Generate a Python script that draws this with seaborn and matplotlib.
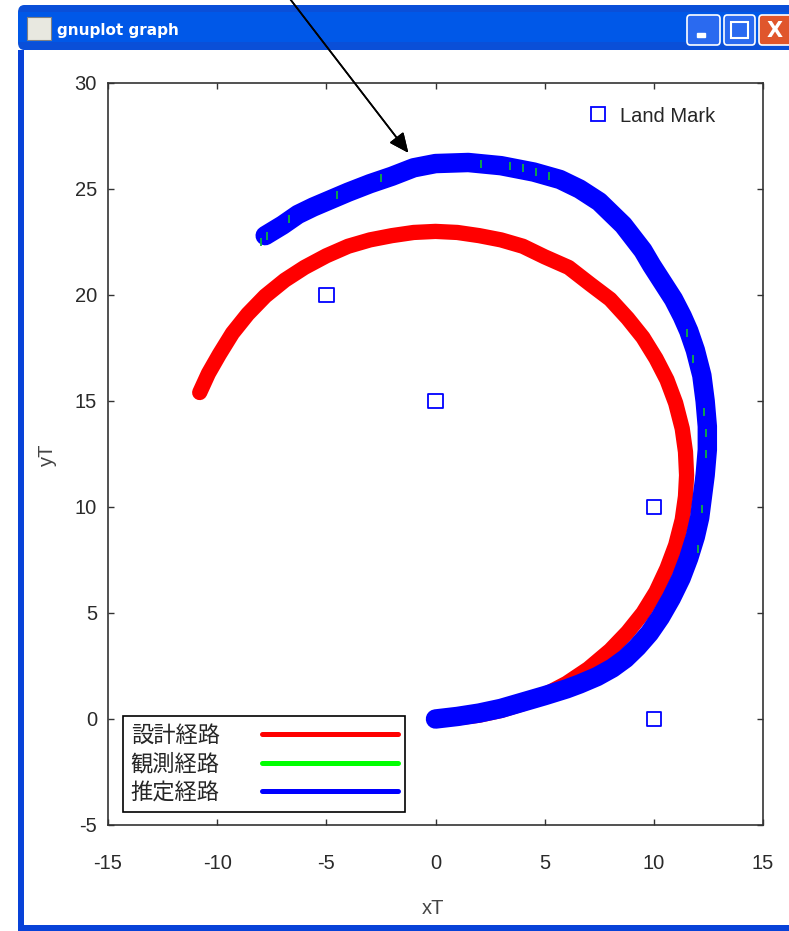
import numpy as np
import pandas as pd
import matplotlib
matplotlib.use("Agg")
import matplotlib.pyplot as plt
from matplotlib.lines import Line2D
from matplotlib.patches import Rectangle, FancyBboxPatch
import seaborn as sns

# design path (red)
design_x = [0.0, 1.0, 2.0, 3.0, 4.0, 5.0, 6.0, 7.0, 8.0, 8.8, 9.5, 10.1, 10.6, 11.0,
            11.3, 11.45, 11.5, 11.45, 11.3, 11.0, 10.6, 10.1, 9.5, 8.8, 8.0, 7.1,
            6.1, 5.0, 4.0, 3.0, 2.0, 1.0, 0.0, -1.0, -2.0, -3.0, -4.0, -5.0, -6.0,
            -6.9, -7.8, -8.6, -9.3, -9.9, -10.4, -10.8]
design_y = [0.0, 0.05, 0.18, 0.4, 0.72, 1.14, 1.68, 2.37, 3.24, 4.1, 5.0, 6.0, 7.1,
            8.2, 9.4, 10.5, 11.5, 12.6, 13.7, 14.9, 16.0, 17.0, 18.0, 18.9, 19.8,
            20.5, 21.3, 21.8, 22.3, 22.6, 22.8, 22.95, 23.0, 22.95, 22.8, 22.6,
            22.3, 21.85, 21.3, 20.7, 19.95, 19.1, 18.2, 17.2, 16.3, 15.4]

# estimated path (blue)
est_x = [0.0, 1.0, 2.0, 3.0, 4.0, 5.0, 6.0, 6.6, 7.4, 8.1, 8.7, 9.25, 9.8, 10.3,
         10.8, 11.25, 11.6, 11.9, 12.1, 12.2, 12.35, 12.45, 12.45, 12.35, 12.2,
         11.9, 11.6, 11.3, 10.9, 10.4, 9.9, 9.5, 8.6, 7.5, 6.6, 5.7, 4.5, 3.0,
         1.5, 0.0, -1.0, -2.0, -3.0, -4.0, -4.8, -5.6, -6.3, -7.0, -7.8]
est_y = [0.0, 0.12, 0.28, 0.5, 0.8, 1.1, 1.42, 1.65, 2.0, 2.4, 2.85, 3.4, 4.05, 4.8,
         5.7, 6.65, 7.6, 8.6, 9.5, 10.3, 11.5, 12.7, 13.8, 15.0, 16.2, 17.4, 18.3,
         19.0, 19.8, 20.6, 21.4, 22.1, 23.3, 24.4, 25.0, 25.45, 25.8, 26.1, 26.25,
         26.2, 26.0, 25.6, 25.25, 24.85, 24.5, 24.15, 23.8, 23.3, 22.8]

# observed path (green), only the specks that show through
obs_x = [-8.0, -7.7, -6.7, -4.5, -2.5, 2.1, 3.4, 4.0, 4.6, 5.2, 11.5, 11.8,
         12.3, 12.4, 12.4, 12.2, 12.0]
obs_y = [22.5, 22.8, 23.6, 24.7, 25.5, 26.2, 26.1, 26.0, 25.8, 25.6, 18.2, 17.0,
         14.5, 13.5, 12.5, 9.9, 8.0]

# land marks
mark_x = [-5, 0, 10, 10]
mark_y = [20, 15, 10, 0]

path_labels = ["設計経路", "観測経路", "推定経路"]
path_colors = ["#ff0000", "#00ff00", "#0000ff"]

W, H = 789, 931
def fx(px):
    return px / W
def fy(py):
    return 1 - py / H

sns.set_theme(style="ticks")
plt.rcParams["font.family"] = ["Liberation Sans", "DejaVu Sans"]
plt.rcParams["axes.unicode_minus"] = False

fig = plt.figure(figsize=(W / 100, H / 100), dpi=100)
fig.patch.set_facecolor("white")

# window chrome
fig.add_artist(FancyBboxPatch((fx(18), fy(50)), fx(800) - fx(18), fy(5) - fy(50),
                              boxstyle="round,pad=0,rounding_size=0.008",
                              transform=fig.transFigure, facecolor="#0a4fd8",
                              edgecolor="none", zorder=0))
fig.add_artist(Rectangle((fx(18), fy(42)), fx(800) - fx(18), fy(12) - fy(42),
                         transform=fig.transFigure, facecolor="#0058e8",
                         edgecolor="none", zorder=0))
fig.add_artist(Rectangle((fx(18), fy(931)), fx(24) - fx(18), fy(50) - fy(931),
                         transform=fig.transFigure, facecolor="#0842d8",
                         edgecolor="none", zorder=0))
fig.add_artist(Rectangle((fx(18), fy(931)), 1, fy(925) - fy(931),
                         transform=fig.transFigure, facecolor="#0842d8",
                         edgecolor="none", zorder=0))
fig.add_artist(Rectangle((fx(27), fy(40)), fx(24), fy(17) - fy(40),
                         transform=fig.transFigure, facecolor="#e8e8e0",
                         edgecolor="#808080", linewidth=0.8, zorder=1))
fig.text(fx(57), fy(30), "gnuplot graph", color="white", fontsize=11,
         fontweight="bold", family="DejaVu Sans", va="center", ha="left")
for x0, x1, col in [(687, 720, "#2a6af0"), (724, 755, "#2a6af0"), (759, 795, "#e0562c")]:
    fig.add_artist(FancyBboxPatch((fx(x0), fy(45)), fx(x1) - fx(x0), fy(15) - fy(45),
                                  boxstyle="round,pad=0,rounding_size=0.004",
                                  transform=fig.transFigure, facecolor=col,
                                  edgecolor="white", linewidth=1.2, zorder=1))
fig.add_artist(Rectangle((fx(697), fy(37)), fx(8), fy(33) - fy(37),
                         transform=fig.transFigure, facecolor="white", zorder=2))
fig.add_artist(Rectangle((fx(731), fy(38)), fx(17), fy(22) - fy(38),
                         transform=fig.transFigure, facecolor="none",
                         edgecolor="white", linewidth=1.5, zorder=2))
fig.text(fx(775), fy(31), "X", color="white", fontsize=15, fontweight="bold",
         family="DejaVu Sans", ha="center", va="center")

ax = fig.add_axes([fx(108), fy(825), fx(763) - fx(108), fy(83) - fy(825)])

sns.lineplot(x=design_x, y=design_y, sort=False, estimator=None, color=path_colors[0],
             linewidth=11, solid_capstyle="round", solid_joinstyle="round", ax=ax)
sns.lineplot(x=est_x, y=est_y, sort=False, estimator=None, color=path_colors[2],
             linewidth=14, solid_capstyle="round", solid_joinstyle="round", ax=ax)
sns.scatterplot(x=obs_x, y=obs_y, marker="|", color="#10b040", s=30,
                linewidth=1.3, ax=ax, zorder=5)
sns.scatterplot(x=mark_x, y=mark_y, marker="s", s=110, facecolor="none",
                edgecolor="#0000ff", linewidth=1.3, ax=ax, zorder=6)

ax.set_xlim(-15, 15)
ax.set_ylim(-5, 30)
ax.set_xticks(np.arange(-15, 16, 5))
ax.set_yticks(np.arange(-5, 31, 5))
ax.tick_params(direction="in", length=4, width=1, color="#333333",
               top=True, right=True, labelsize=14.5, labelcolor="#2a2a2a")
ax.tick_params(axis="x", pad=21)
ax.tick_params(axis="y", pad=8)
for s in ax.spines.values():
    s.set_color("#333333")
    s.set_linewidth(1.2)

ax.set_xlabel("xT", fontsize=14.5, color="#444444")
ax.set_ylabel("yT", fontsize=14.5, color="#444444")
ax.xaxis.set_label_coords((433 - 108) / 655, (825 - 908) / 742)
ax.yaxis.set_label_coords((47 - 108) / 655, (825 - 455) / 742)
ax.xaxis.label.set_va("center")
ax.yaxis.label.set_va("center")

# legends
mark_handle = Line2D([], [], marker="s", markersize=10, markerfacecolor="none",
                     markeredgecolor="#0000ff", markeredgewidth=1.3, linestyle="none")
leg1 = ax.legend([mark_handle], ["Land Mark"], loc="center left",
                 bbox_to_anchor=((588 - 108) / 655, (825 - 116) / 742),
                 frameon=False, fontsize=14.5, handlelength=1.0,
                 handletextpad=0.6, borderpad=0, borderaxespad=0)
ax.add_artist(leg1)

path_handles = [Line2D([], [], color=c, linewidth=3.6) for c in path_colors]
leg2 = ax.legend(path_handles, path_labels, loc="lower left",
                 bbox_to_anchor=((123 - 108) / 655, (825 - 812) / 742),
                 borderaxespad=0, markerfirst=False, fancybox=False,
                 edgecolor="black", framealpha=1, handlelength=6.1,
                 handletextpad=1.9, borderpad=0.35, labelspacing=0.25,
                 prop={"family": ["Noto Sans CJK JP", "DejaVu Sans"], "size": 16})
leg2.get_frame().set_linewidth(1.2)

# arrow from above the window to the top of the blue arc
fig.add_artist(plt.annotate("", xy=(fx(410), fy(155)), xytext=(fx(287), fy(-5)),
                            xycoords="figure fraction", textcoords="figure fraction",
                            arrowprops=dict(arrowstyle="-|>,head_length=1.0,head_width=0.45",
                                            color="black", linewidth=1.2)))

fig.savefig("out.png", dpi=100)
